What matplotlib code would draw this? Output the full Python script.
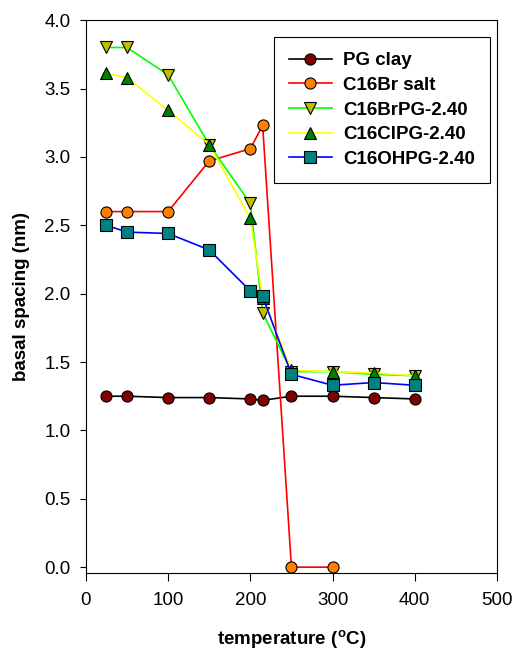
import matplotlib
matplotlib.use("Agg")
import matplotlib.pyplot as plt

plt.rcParams["font.family"] = ["Liberation Sans", "DejaVu Sans"]
plt.rcParams["mathtext.fontset"] = "custom"
plt.rcParams["mathtext.bf"] = "Liberation Sans:bold"
plt.rcParams["mathtext.rm"] = "Liberation Sans:bold"

# Temperatur in basal spacing vrednosti, odčitane s slike.
temp_all = [25, 50, 100, 150, 200, 215, 250, 300, 350, 400]
temp_salt = [25, 50, 100, 150, 200, 215, 250, 300]

pg_clay = [1.25, 1.25, 1.24, 1.24, 1.23, 1.22, 1.25, 1.25, 1.24, 1.23]
c16br_salt = [2.60, 2.60, 2.60, 2.97, 3.06, 3.23, 0.0, 0.0]
c16brpg = [3.80, 3.80, 3.60, 3.09, 2.66, 1.86, 1.43, 1.43, 1.41, 1.40]
c16clpg = [3.61, 3.58, 3.34, 3.09, 2.55, 1.97, 1.44, 1.43, 1.42, 1.40]
c16ohpg = [2.50, 2.45, 2.44, 2.32, 2.02, 1.98, 1.41, 1.33, 1.35, 1.33]

labels = ["PG clay", "C16Br salt", "C16BrPG-2.40", "C16ClPG-2.40", "C16OHPG-2.40"]

fig = plt.figure(figsize=(5.14, 6.5), dpi=100)
ax = fig.add_axes([0.167, 0.118, 0.800, 0.851])

common = dict(linewidth=1.2, markersize=8, markeredgecolor="black", markeredgewidth=0.8)
ax.plot(temp_all, pg_clay, color="black", marker="o", markerfacecolor="#800000",
        label=labels[0], **common)
ax.plot(temp_salt, c16br_salt, color="#FF0000", marker="o", markerfacecolor="#FF8000",
        label=labels[1], **common)
ax.plot(temp_all, c16brpg, color="#00FF00", marker="v", markerfacecolor="#BFBF00",
        label=labels[2], **common)
ax.plot(temp_all, c16clpg, color="#FFFF00", marker="^", markerfacecolor="#007F00",
        label=labels[3], **common)
ax.plot(temp_all, c16ohpg, color="#0000FF", marker="s", markerfacecolor="#008080",
        label=labels[4], **common)

ax.set_xlim(0, 500)
ax.set_ylim(-0.045, 4.0)
ax.set_xticks([0, 100, 200, 300, 400, 500])
ax.set_yticks([0.0, 0.5, 1.0, 1.5, 2.0, 2.5, 3.0, 3.5, 4.0])
ax.set_yticklabels([f"{v:.1f}" for v in ax.get_yticks()])
ax.tick_params(direction="out", width=0.8, labelsize=13.5)
ax.tick_params(axis="x", length=5.5, pad=8)
ax.tick_params(axis="y", length=4, pad=7)

ax.set_xlabel(r"temperature ($^{\mathbf{o}}$C)", fontsize=13.5, fontweight="bold", labelpad=14)
ax.set_ylabel("basal spacing (nm)", fontsize=13.5, fontweight="bold", labelpad=10)

leg = ax.legend(loc="upper right", bbox_to_anchor=(0.983, 0.969), fancybox=False,
                edgecolor="black", framealpha=1, handlelength=2.3,
                prop={"weight": "bold", "size": 13.5}, borderpad=0.8,
                labelspacing=0.4, handletextpad=0.6, borderaxespad=0)
leg.get_frame().set_linewidth(0.8)

fig.savefig("out.png", dpi=100)
